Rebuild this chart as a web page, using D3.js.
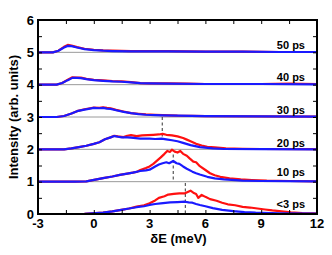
<!DOCTYPE html>
<html>
<head>
<meta charset="utf-8">
<script src="https://cdn.jsdelivr.net/npm/d3@7"></script>
<style>
  body { margin: 0; background: #fff; }
  text { font-family: "Liberation Sans", Arial, sans-serif; font-weight: bold; }
</style>
</head>
<body>
<div id="chart"></div>
<script>
// delays, bottom to top
var delays = ["<3 ps", "10 ps", "20 ps", "30 ps", "40 ps", "50 ps"];
var offsets = [0, 1, 2, 3, 4, 5];
var labelLevels = [0.19, 1.18, 2.08, 3.1, 4.11, 5.1];

var xTicks = [-3, 0, 3, 6, 9, 12];
var yTicks = [0, 1, 2, 3, 4, 5, 6];

// red spectra (dE meV, intensity above own baseline)
var red0 = [[-3,0],[-0.5,0.005],[0.5,0.04],[1.0,0.08],[1.4,0.12],[1.9,0.17],[2.3,0.23],[2.7,0.27],[3.0,0.33],[3.3,0.42],[3.5,0.5],[3.8,0.55],[4.0,0.6],[4.3,0.62],[4.6,0.64],[4.9,0.64],[5.05,0.68],[5.2,0.72],[5.35,0.66],[5.5,0.62],[5.62,0.5],[5.8,0.59],[6.0,0.53],[6.25,0.46],[6.6,0.41],[6.9,0.35],[7.2,0.3],[7.6,0.27],[8.0,0.22],[8.4,0.2],[8.8,0.17],[9.2,0.14],[9.6,0.11],[10.1,0.08],[10.6,0.05],[11.2,0.03],[12,0.02]];
var red1 = [[-3,0],[-1,0.0],[-0.4,0.01],[0.5,0.11],[1.0,0.16],[1.4,0.21],[1.8,0.25],[2.1,0.28],[2.3,0.3],[2.5,0.36],[2.8,0.42],[3.0,0.47],[3.2,0.55],[3.4,0.65],[3.6,0.75],[3.8,0.86],[3.95,0.95],[4.1,0.92],[4.2,0.99],[4.35,0.93],[4.5,0.9],[4.65,0.95],[4.8,0.86],[5.0,0.8],[5.15,0.72],[5.35,0.62],[5.5,0.6],[5.7,0.48],[6.0,0.36],[6.25,0.26],[6.5,0.2],[6.8,0.15],[7.3,0.1],[7.9,0.07],[8.5,0.05],[9.3,0.03],[10.5,0.02],[12,0.01]];
var red2 = [[-3,0],[-1.6,0.0],[-1.2,0.03],[-0.8,0.07],[-0.4,0.11],[0,0.17],[0.3,0.22],[0.6,0.31],[0.9,0.37],[1.1,0.42],[1.3,0.4],[1.6,0.38],[1.8,0.42],[2.0,0.44],[2.3,0.41],[2.6,0.43],[2.9,0.44],[3.2,0.45],[3.5,0.46],[3.7,0.48],[3.9,0.45],[4.2,0.43],[4.5,0.4],[4.8,0.35],[5.0,0.3],[5.2,0.25],[5.5,0.17],[5.8,0.12],[6.1,0.08],[6.5,0.06],[7.1,0.03],[8.0,0.015],[9,0.01],[12,0.005]];
var red3 = [[-3,0],[-2,0.0],[-1.6,0.03],[-1.2,0.11],[-0.9,0.18],[-0.5,0.24],[-0.2,0.27],[0,0.29],[0.3,0.28],[0.5,0.3],[0.7,0.28],[0.9,0.27],[1.2,0.22],[1.6,0.17],[2.0,0.12],[2.4,0.1],[2.8,0.08],[3.3,0.07],[3.7,0.06],[4.5,0.04],[6,0.03],[9,0.02],[12,0.01]];
var red4 = [[-3,0],[-2,0.0],[-1.7,0.05],[-1.4,0.15],[-1.15,0.23],[-0.9,0.22],[-0.7,0.22],[-0.4,0.18],[0,0.15],[0.5,0.13],[1,0.11],[1.5,0.1],[2,0.08],[2.5,0.05],[3,0.04],[4,0.04],[5,0.03],[6,0.02],[9,0.02],[10.5,0.03],[12,0.02]];
var red5 = [[-3,0],[-2.2,0.0],[-1.9,0.05],[-1.6,0.17],[-1.4,0.23],[-1.2,0.21],[-0.9,0.16],[-0.5,0.11],[0,0.08],[0.5,0.06],[1,0.05],[2,0.04],[3,0.04],[4,0.04],[5,0.03],[6,0.02],[8,0.02],[10,0.01],[12,0.01]];

// blue spectra
var blue0 = [[-3,0],[-0.5,0.005],[0.5,0.04],[1.0,0.08],[1.4,0.12],[1.9,0.17],[2.3,0.21],[2.7,0.24],[3.0,0.28],[3.3,0.31],[3.6,0.33],[4.1,0.36],[4.5,0.37],[4.9,0.38],[5.1,0.36],[5.3,0.35],[5.5,0.31],[5.7,0.28],[6.0,0.24],[6.4,0.18],[6.9,0.13],[7.5,0.09],[8.1,0.06],[8.7,0.04],[10,0.02],[12,0.01]];
var blue1 = [[-3,0],[-1,0.0],[-0.4,0.01],[0.5,0.11],[1.0,0.16],[1.4,0.21],[1.8,0.25],[2.1,0.28],[2.5,0.33],[2.8,0.35],[3.0,0.37],[3.3,0.47],[3.5,0.53],[3.7,0.57],[3.9,0.6],[4.05,0.57],[4.27,0.64],[4.45,0.57],[4.6,0.55],[4.8,0.47],[5.0,0.4],[5.3,0.31],[5.5,0.26],[5.7,0.22],[6.1,0.15],[6.5,0.1],[7,0.07],[8,0.03],[9,0.02],[12,0.01]];
var blue2 = [[-3,0],[-1.6,0.0],[-1.2,0.03],[-0.8,0.07],[-0.4,0.11],[0,0.17],[0.3,0.22],[0.6,0.31],[0.9,0.37],[1.1,0.41],[1.3,0.39],[1.5,0.37],[1.8,0.37],[2.0,0.36],[2.5,0.33],[3.0,0.33],[3.3,0.32],[3.65,0.33],[3.9,0.31],[4.2,0.28],[4.5,0.25],[4.8,0.2],[5.2,0.13],[5.7,0.07],[6.4,0.03],[7,0.01],[9,0.005],[12,0]];
var blue3 = [[-3,0],[-2,0.0],[-1.6,0.03],[-1.2,0.11],[-0.9,0.18],[-0.5,0.23],[-0.2,0.26],[0,0.28],[0.3,0.27],[0.5,0.28],[0.7,0.26],[0.9,0.25],[1.2,0.21],[1.6,0.16],[2.0,0.12],[2.4,0.09],[2.8,0.07],[3.3,0.06],[3.7,0.05],[4.5,0.04],[6,0.03],[9,0.02],[12,0.01]];
var blue4 = [[-3,0],[-2,0.0],[-1.7,0.05],[-1.4,0.14],[-1.15,0.21],[-0.9,0.21],[-0.7,0.2],[-0.4,0.17],[0,0.14],[0.5,0.12],[1,0.1],[1.5,0.09],[2,0.07],[2.5,0.05],[3,0.04],[4,0.03],[6,0.02],[9,0.02],[12,0.01]];
var blue5 = [[-3,0],[-2.2,0.0],[-1.9,0.05],[-1.6,0.15],[-1.4,0.2],[-1.2,0.19],[-0.9,0.15],[-0.5,0.1],[0,0.07],[0.5,0.05],[1,0.04],[2,0.03],[3,0.03],[4,0.03],[6,0.02],[8,0.02],[10,0.01],[12,0.01]];

var redSeries = [red0, red1, red2, red3, red4, red5];
var blueSeries = [blue0, blue1, blue2, blue3, blue4, blue5];

// dashed markers: [x, yTop, yBottom]
var markers = [[4.92, 0.96, 0.0], [4.27, 1.84, 1.06], [3.68, 3.0, 2.36]];

var width = 332, height = 255;
var margin = {top: 20, right: 15, bottom: 41, left: 38};
var plotW = width - margin.left - margin.right;
var plotH = height - margin.top - margin.bottom;

var svg = d3.select("#chart").append("svg")
    .attr("width", width)
    .attr("height", height);

var x = d3.scaleLinear().domain([-3, 12]).range([0, plotW]);
var y = d3.scaleLinear().domain([0, 6]).range([plotH, 0]);

var g = svg.append("g")
    .attr("transform", "translate(" + margin.left + "," + margin.top + ")");

// gray baselines
g.selectAll(".baseline")
    .data(offsets.slice(1))
    .enter().append("line")
    .attr("x1", 0).attr("x2", plotW)
    .attr("y1", function(d) { return y(d); })
    .attr("y2", function(d) { return y(d); })
    .attr("stroke", "#9a9a9a")
    .attr("stroke-width", 1);

// dashed markers
g.selectAll(".marker")
    .data(markers)
    .enter().append("line")
    .attr("x1", function(d) { return x(d[0]); })
    .attr("x2", function(d) { return x(d[0]); })
    .attr("y1", function(d) { return y(d[1]); })
    .attr("y2", function(d) { return y(d[2]); })
    .attr("stroke", "#333")
    .attr("stroke-width", 1)
    .style("stroke-dasharray", "3,2.5");

var line = function(off) {
    return d3.line()
        .x(function(d) { return x(d[0]); })
        .y(function(d) { return y(d[1] + off); });
};

redSeries.forEach(function(s, i) {
    g.append("path")
        .attr("d", line(offsets[i])(s))
        .attr("fill", "none")
        .attr("stroke", "#ff1010")
        .attr("stroke-width", 2.2)
        .attr("stroke-linejoin", "round");
});
blueSeries.forEach(function(s, i) {
    g.append("path")
        .attr("d", line(offsets[i])(s))
        .attr("fill", "none")
        .attr("stroke", "#1a1aff")
        .attr("stroke-width", 2.2)
        .attr("stroke-linejoin", "round");
});

// delay labels
g.selectAll(".delay")
    .data(delays)
    .enter().append("text")
    .attr("x", plotW - 12)
    .attr("y", function(d, i) { return y(labelLevels[i]); })
    .attr("text-anchor", "end")
    .style("font-size", "11px")
    .text(function(d) { return d; });

// axes with inside ticks
var minorX = d3.range(-3, 12.01, 1.5);
var minorY = d3.range(0, 6.01, 0.5);

g.append("g")
    .attr("transform", "translate(0," + plotH + ")")
    .call(d3.axisBottom(x).tickValues(minorX).tickSize(-4).tickFormat(""))
    .call(function(a) { a.select(".domain").remove(); });
g.append("g")
    .call(d3.axisTop(x).tickValues(minorX).tickSize(-4).tickFormat(""))
    .call(function(a) { a.select(".domain").remove(); });
g.append("g")
    .call(d3.axisLeft(y).tickValues(minorY).tickSize(-4).tickFormat(""))
    .call(function(a) { a.select(".domain").remove(); });
g.append("g")
    .attr("transform", "translate(" + plotW + ",0)")
    .call(d3.axisRight(y).tickValues(minorY).tickSize(-4).tickFormat(""))
    .call(function(a) { a.select(".domain").remove(); });
g.selectAll(".tick line").attr("stroke", "#000").attr("stroke-width", 1);

// frame
g.append("rect")
    .attr("width", plotW).attr("height", plotH)
    .attr("fill", "none")
    .attr("stroke", "#000")
    .attr("stroke-width", 2);

// tick labels
g.selectAll(".xlab")
    .data(xTicks)
    .enter().append("text")
    .attr("x", function(d) { return x(d); })
    .attr("y", plotH + 14)
    .attr("text-anchor", "middle")
    .style("font-size", "13px")
    .text(function(d) { return d; });

g.selectAll(".ylab")
    .data(yTicks)
    .enter().append("text")
    .attr("x", -4)
    .attr("y", function(d) { return y(d) + 4.8; })
    .attr("text-anchor", "end")
    .style("font-size", "13px")
    .text(function(d) { return d; });

// axis titles
svg.append("text")
    .attr("x", margin.left + plotW / 2 + 1)
    .attr("y", height - 12)
    .attr("text-anchor", "middle")
    .style("font-size", "13px")
    .text("δE (meV)");

svg.append("text")
    .attr("transform", "translate(18," + (margin.top + plotH / 2) + ") rotate(-90)")
    .attr("text-anchor", "middle")
    .style("font-size", "13px")
    .text("Intensity (arb. units)");
</script>
</body>
</html>
